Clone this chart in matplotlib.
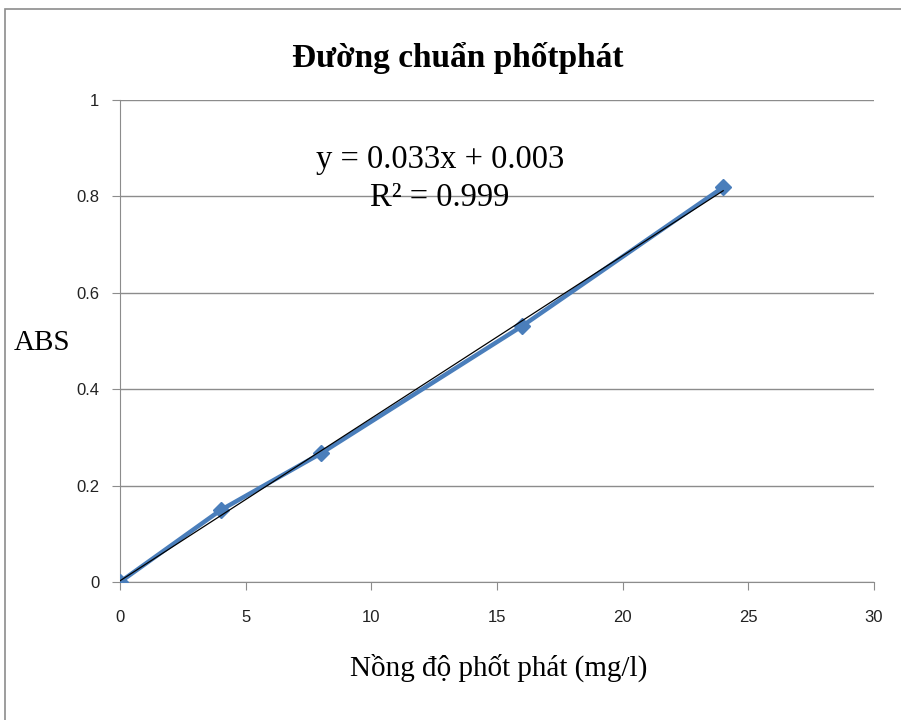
import numpy as np
import matplotlib.pyplot as plt
from matplotlib.patches import Rectangle

# du lieu duong chuan
nong_do = [0, 4, 8, 16, 24]
abs_vals = [0, 0.149, 0.267, 0.531, 0.819]
x_ticks = [0, 5, 10, 15, 20, 25, 30]
y_ticks = [0, 0.2, 0.4, 0.6, 0.8, 1]
y_ticklabels = ["0", "0.2", "0.4", "0.6", "0.8", "1"]

fig = plt.figure(figsize=(9.01, 7.2), dpi=100)
ax = fig.add_axes([120 / 901, 1 - 582 / 720, 754 / 901, 482 / 720])

# khung ngoai
fig.patches.append(Rectangle((5 / 901, -0.1), 1.0, 1 - 9 / 720 + 0.1, transform=fig.transFigure,
                             fill=False, edgecolor="#8c8c8c", linewidth=1.2))

ax.plot(nong_do, abs_vals, color="#4a7ebb", linewidth=3.2, marker="D", markersize=8,
        markeredgecolor="#4a7ebb", zorder=3)

# duong hoi quy
a, b = np.polyfit(nong_do, abs_vals, 1)
xf = np.array([nong_do[0], nong_do[-1]])
ax.plot(xf, a * xf + b, color="black", linewidth=0.9, zorder=4)

ax.set_xlim(0, 30)
ax.set_ylim(0, 1)
ax.set_xticks(x_ticks)
ax.set_yticks(y_ticks)
ax.set_yticklabels(y_ticklabels)
ax.grid(axis="y", color="#8c8c8c", linewidth=1)
ax.set_axisbelow(True)
for s in ["top", "right"]:
    ax.spines[s].set_visible(False)
for s in ["left", "bottom"]:
    ax.spines[s].set_color("#8c8c8c")
ax.tick_params(direction="out", length=6, color="#8c8c8c", labelsize=12, labelcolor="#222222")
ax.tick_params(axis="x", pad=14)
ax.tick_params(axis="y", pad=9)
for lbl in ax.get_xticklabels() + ax.get_yticklabels():
    lbl.set_family("Liberation Sans")

fig.text(458 / 901, 1 - 58 / 720, "Đường chuẩn phốtphát", ha="center", va="center",
         fontsize=24, fontweight="bold", family="Liberation Serif")
fig.text(440 / 901, 1 - 160 / 720, "y = 0.033x + 0.003", ha="center", va="center",
         fontsize=23.5, family="Liberation Serif")
fig.text(440 / 901, 1 - 198 / 720, "R² = 0.999", ha="center", va="center",
         fontsize=23.5, family="Liberation Serif")
fig.text(42 / 901, 1 - 343 / 720, "ABS", ha="center", va="center",
         fontsize=21, family="Liberation Serif")
fig.text(499 / 901, 1 - 668 / 720, "Nồng độ phốt phát (mg/l)", ha="center", va="center",
         fontsize=21, family="Liberation Serif")

fig.savefig("out.png", dpi=100)
